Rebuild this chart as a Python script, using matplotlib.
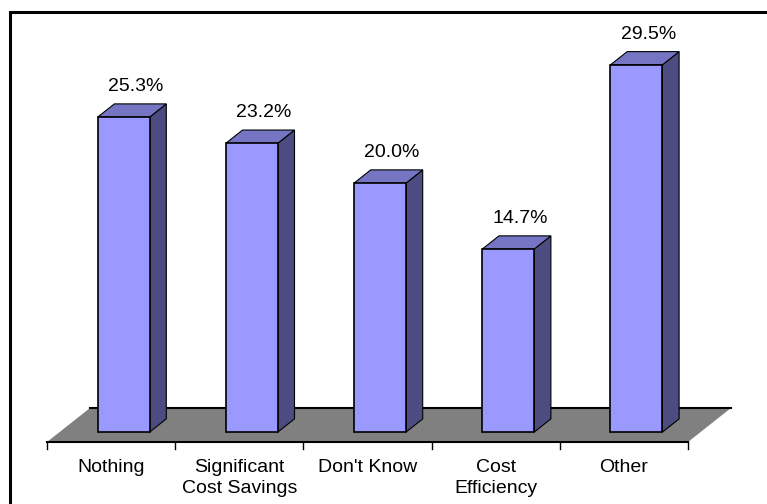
import matplotlib.pyplot as plt
from matplotlib.patches import Polygon, Rectangle

plt.rcParams['font.family'] = ['Liberation Sans', 'DejaVu Sans']

categories = ["Nothing", "Significant\nCost Savings", "Don't Know", "Cost\nEfficiency", "Other"]
values = [25.3, 23.2, 20.0, 14.7, 29.5]
value_labels = ["25.3%", "23.2%", "20.0%", "14.7%", "29.5%"]

W, H = 767, 504
fig = plt.figure(figsize=(W / 100, H / 100), dpi=100)

ymax = 32
px_x = 641 / len(values)   # pixels per category
px_y = 12.45               # pixels per percent
ax = fig.add_axes([47 / W, 62 / H, 641 / W, px_y * ymax / H])
ax.set_xlim(0, len(values))
ax.set_ylim(0, ymax)
ax.axis('off')

# oblique depth of the floor, in data units
DX = 43 / px_x
DY = 34 / px_y


def pt(x, y, d):
    return (x + d * DX, y + d * DY)


front_col = '#9999FF'
side_col = '#4C4C80'
top_col = '#7575C4'

# floor
n = len(values)
floor = Polygon([pt(0, 0, 0), pt(n, 0, 0), pt(n, 0, 1), pt(0, 0, 1)],
                closed=True, facecolor='#808080', edgecolor='none', clip_on=False, zorder=1)
ax.add_patch(floor)
ax.plot(*zip(pt(0, 0, 1), pt(n, 0, 1)), color='black', lw=1.5, clip_on=False, zorder=2)
ax.plot([0, n], [0, 0], color='black', lw=1.5, clip_on=False, zorder=2)
tick_len = 7 / px_y
for i in range(n + 1):
    ax.plot([i, i], [0, -tick_len], color='black', lw=1, clip_on=False, zorder=2)

# bars
d0, d1 = 0.29, 0.68
bw = 0.405
for i, (v, lab) in enumerate(zip(values, value_labels)):
    xl = i + 0.5 - bw / 2
    xr = i + 0.5 + bw / 2
    side = Polygon([pt(xr, 0, d0), pt(xr, 0, d1), pt(xr, v, d1), pt(xr, v, d0)],
                   facecolor=side_col, edgecolor='black', lw=0.8, clip_on=False, zorder=3)
    top = Polygon([pt(xl, v, d0), pt(xr, v, d0), pt(xr, v, d1), pt(xl, v, d1)],
                  facecolor=top_col, edgecolor='black', lw=0.8, clip_on=False, zorder=3)
    front = Polygon([pt(xl, 0, d0), pt(xr, 0, d0), pt(xr, v, d0), pt(xl, v, d0)],
                    facecolor=front_col, edgecolor='black', lw=1.2, clip_on=False, zorder=4)
    for p in (side, top, front):
        ax.add_patch(p)
    ax.annotate(lab, xy=pt(i + 0.5, v, d0), xytext=(12, 26), textcoords='offset pixels',
                ha='center', va='baseline', fontsize=14, annotation_clip=False)

# category labels
for i, c in enumerate(categories):
    ax.annotate(c, xy=(i + 0.5, 0), xytext=(0, -17), textcoords='offset pixels',
                ha='center', va='top', fontsize=14, linespacing=1.3,
                multialignment='center', annotation_clip=False)

# chart area frame
fig.add_artist(Rectangle((9.5 / W, -0.1), 1.2, 1.1 - 12 / H, transform=fig.transFigure,
                         facecolor='none', edgecolor='black', lw=2.2))

fig.savefig('out.png', dpi=100)
